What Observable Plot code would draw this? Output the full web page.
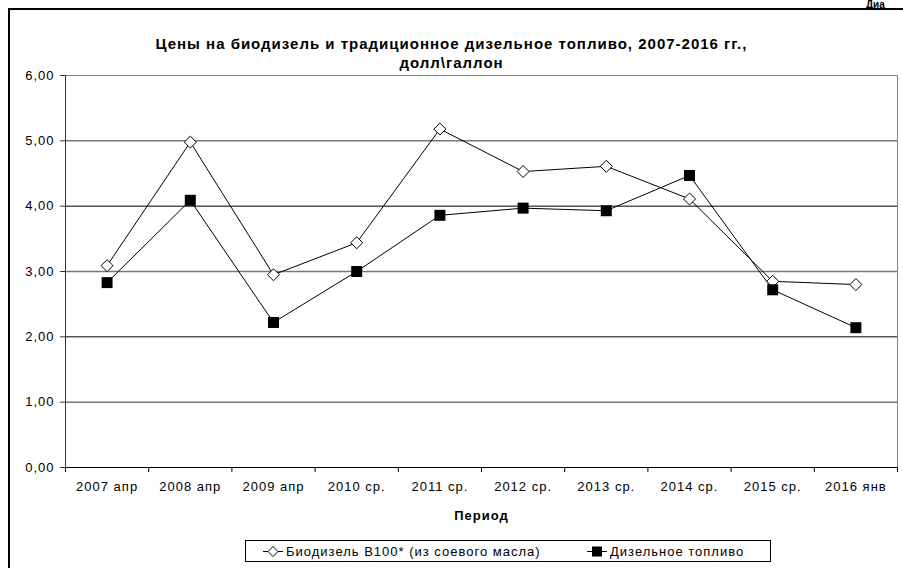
<!DOCTYPE html>
<html>
<head>
<meta charset="utf-8">
<script src="https://cdn.jsdelivr.net/npm/d3@7"></script>
<script src="https://cdn.jsdelivr.net/npm/@observablehq/plot@0.6"></script>
<style>
  body { margin: 0; background: #fff; }
  #wrap { position: relative; width: 903px; height: 568px; overflow: hidden; background: #fff;
          font-family: "Liberation Sans", Arial, sans-serif; color: #000; }
  #frame { position: absolute; left: 8px; top: 8px; width: 1000px; height: 700px;
           border-left: 2px solid #000; border-top: 2px solid #000; pointer-events: none; }
  #corner { position: absolute; left: 866px; top: 0px; font-weight: bold; font-size: 10px; line-height: 10px; white-space: nowrap; }
  #title { height: 68px; box-sizing: border-box; padding-top: 34px; text-align: center; font-weight: bold;
           font-size: 15px; letter-spacing: 1px; line-height: 19px; overflow: visible; white-space: nowrap; }
  #title div { height: 19px; display: flex; align-items: center; justify-content: center; }
  #chart svg { display: block; }
  #chart svg text { letter-spacing: 1px; }
  #legend { position: absolute; left: 245px; top: 540px; width: 524px; height: 20px; border: 1px solid #000;
            font-size: 13px; letter-spacing: 1px; }
  .item { position: absolute; top: 0; height: 20px; display: flex; align-items: center; white-space: nowrap; }
  .item svg { display: block; margin-right: 3px; }
</style>
</head>
<body>
<div id="wrap">
  <div id="title"></div>
  <div id="chart"></div>
  <div id="legend"></div>
  <div id="frame"></div>
  <div id="corner">Диа</div>
</div>
<script>
// ---- data ----
const titleLines = ["Цены на биодизель и традиционное дизельное топливо, 2007-2016 гг.,", "долл\\галлон"];
const periods = ["2007 апр", "2008 апр", "2009 апр", "2010 ср.", "2011 ср.", "2012 ср.", "2013 ср.", "2014 ср.", "2015 ср.", "2016 янв"];
const biodiesel = [3.09, 4.98, 2.95, 3.44, 5.18, 4.53, 4.61, 4.11, 2.85, 2.80];
const diesel = [2.83, 4.09, 2.22, 3.00, 3.86, 3.97, 3.93, 4.47, 2.72, 2.14];
const seriesNames = ["Биодизель B100* (из соевого масла)", "Дизельное топливо"];
const yTicks = [0, 1, 2, 3, 4, 5, 6];
const xLabel = "Период";

// ---- build table ----
const rows = periods.map((p, i) => ({i, period: p, bio: biodiesel[i], diesel: diesel[i]}));
const idx = periods.map((p, i) => i);
const bounds = d3.range(periods.length + 1).map(k => k - 0.5);

// title
const titleEl = document.getElementById("title");
titleLines.forEach(t => { const d = document.createElement("div"); d.textContent = t; titleEl.appendChild(d); });

const fmt = d => d.toFixed(2).replace(".", ",");

const chart = Plot.plot({
  width: 903,
  height: 462,
  marginLeft: 65,
  marginRight: 6,
  marginTop: 7,
  marginBottom: 63,
  style: {fontFamily: "'Liberation Sans', Arial, sans-serif", fontSize: "13px", color: "#000", background: "#fff"},
  x: {type: "linear", domain: [-0.5, periods.length - 0.5], axis: null},
  y: {domain: [0, 6], axis: null},
  marks: [
    Plot.gridY([5, 3, 1], {stroke: "#777", strokeOpacity: 1, strokeWidth: 1.5}),
    Plot.gridY([4, 2], {stroke: "#000", strokeOpacity: 1}),
    Plot.ruleY([6], {stroke: "#808080"}),
    Plot.ruleX([periods.length - 0.5], {stroke: "#808080"}),
    Plot.ruleX([-0.5], {stroke: "#333"}),
    Plot.ruleY([0], {stroke: "#000"}),
    Plot.axisY(yTicks, {tickSize: 5, tickPadding: 6, tickFormat: fmt, stroke: "#333", label: null}),
    Plot.axisX(bounds, {tickSize: 5, tickFormat: () => "", stroke: "#000", label: null}),
    Plot.axisX(idx, {tickSize: 0, tickPadding: 14, tickFormat: i => periods[i], label: null}),
    Plot.text([xLabel], {frameAnchor: "bottom", dy: 48, text: d => d, fontWeight: "bold", lineAnchor: "middle"}),
    Plot.line(rows, {x: "i", y: "bio", stroke: "#000", strokeWidth: 1}),
    Plot.line(rows, {x: "i", y: "diesel", stroke: "#000", strokeWidth: 1}),
    Plot.dot(rows, {x: "i", y: "bio", symbol: "diamond2", r: 5.4, fill: "#fff", stroke: "#000", strokeWidth: 1}),
    Plot.dot(rows, {x: "i", y: "diesel", symbol: "square", r: 6.2, fill: "#000", stroke: "none"})
  ]
});
document.getElementById("chart").appendChild(chart);

// legend
const legend = document.getElementById("legend");
function addItem(left, name, kind) {
  const it = document.createElement("div");
  it.className = "item";
  it.style.left = left + "px";
  const s = d3.create("svg").attr("width", 20).attr("height", 20);
  s.append("line").attr("x1", 0).attr("x2", 20).attr("y1", 10.5).attr("y2", 10.5).attr("stroke", "#000");
  if (kind === "diamond") {
    s.append("path").attr("d", "M10,5.5L15,10.5L10,15.5L5,10.5Z").attr("fill", "#fff").attr("stroke", "#000");
  } else {
    s.append("rect").attr("x", 5).attr("y", 5.5).attr("width", 10).attr("height", 10).attr("fill", "#000");
  }
  it.appendChild(s.node());
  const t = document.createElement("span");
  t.textContent = name;
  it.appendChild(t);
  legend.appendChild(it);
}
addItem(17, seriesNames[0], "diamond");
addItem(341, seriesNames[1], "square");
</script>
</body>
</html>
